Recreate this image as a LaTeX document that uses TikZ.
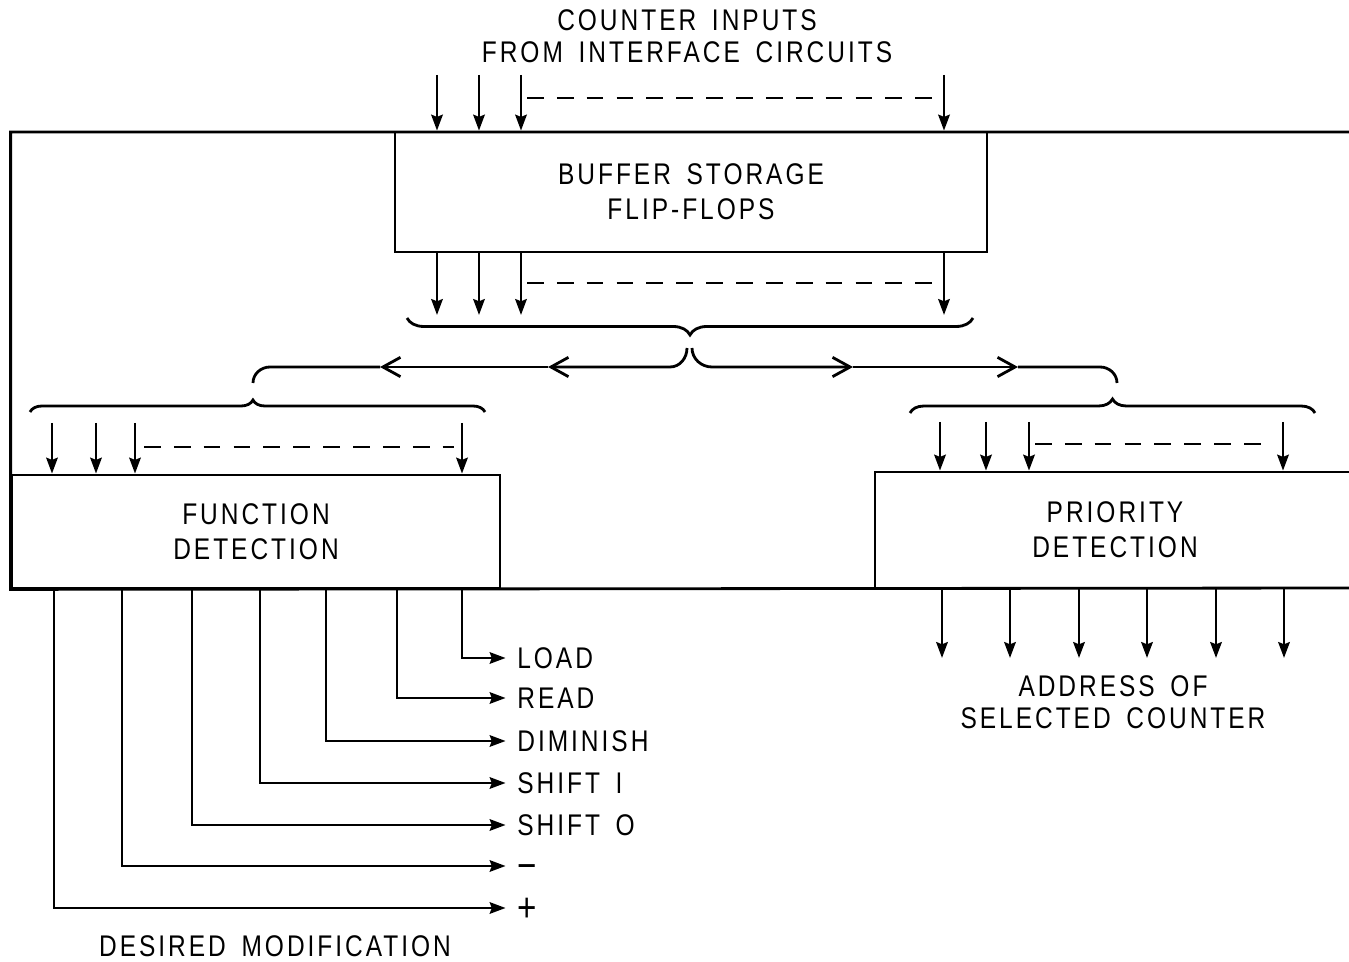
\documentclass[tikz,border=0pt]{standalone}
\usepackage{fontspec}
\setmainfont{Liberation Sans}[FakeStretch=0.82,LetterSpace=10,WordSpace=1.6]
\usetikzlibrary{arrows.meta,positioning,calc,decorations.pathreplacing}

\newcommand{\bigsign}[1]{\raisebox{-1.3pt}{\fontsize{23}{23}\selectfont #1}}

\begin{document}
\begin{tikzpicture}[
        x=0.02cm, y=-0.02cm,
        lbl/.style={font=\fontsize{17}{20}\selectfont, inner sep=0pt, align=center},
        outlbl/.style={lbl, anchor=west, text height=12.2pt, text depth=0pt},
        blk/.style={draw, line width=1.6pt, inner sep=0pt, lbl},
        wire/.style={line width=1.6pt},
        sig/.style={wire, -{Stealth[length=9pt,width=6.5pt,inset=1.2pt]}},
        bus/.style={wire, dash pattern=on 9.5pt off 7.5pt},
        fan/.style={wire, -{Straight Barb[length=10pt,width=11pt]}},
        brdn/.style={wire, decorate, decoration={brace, mirror, amplitude=#1}},
        brup/.style={wire, decorate, decoration={brace, amplitude=#1}}
    ]
    \useasboundingbox (0,0) rectangle (1349,962);

    % Blocks
    \node[blk, minimum width=11.84cm, minimum height=2.4cm] (buf) at (691,192) {BUFFER STORAGE\\FLIP-FLOPS};
    \node[blk, minimum width=9.76cm, minimum height=2.26cm] (fd) at (256,531.5) {FUNCTION\\DETECTION};
    \node[blk, minimum width=9.6cm, minimum height=2.32cm] (pd) at (1115,530) {PRIORITY\\DETECTION};

    % Frame round the blocks
    \coordinate (ftr) at (1352,132);
    \coordinate (fbr) at (1352,588);
    \draw[wire] (ftr) -| (fd.south west) -- (fbr);

    % Inputs to buffer, outputs of buffer
    \node[lbl] (title) at (687,36) {COUNTER INPUTS\\[-2pt]FROM INTERFACE CIRCUITS};
    \foreach \x [count=\i] in {437,479,521,944} {
        \coordinate (bi\i) at (\x,75);
        \coordinate (bo\i) at (\x,315);
        \draw[sig] (bi\i) -- (bi\i |- buf.north);
        \draw[sig] (bi\i |- buf.south) -- (bo\i);
    }
    \draw[bus] ($(bi3)+(6,23)$) -- ($(bi4)+(-12,23)$);
    \draw[bus] ($(bo3)+(6,-32)$) -- ($(bo4)+(-12,-32)$);

    % Braces
    \draw[brdn=0.34cm] (407,318) -- (973,318);
    \draw[brup=0.24cm, decoration={aspect=0.49}] (30,412) -- (485,412);
    \draw[brup=0.28cm] (910,413) -- (1315,413);

    % Split to both detectors
    \coordinate (cl1) at (687,348);
    \coordinate (cl2) at (670,367);
    \coordinate (la1) at (548,367);
    \coordinate (la2) at (380,367);
    \coordinate (cr1) at (692,348);
    \coordinate (cr2) at (712,367);
    \coordinate (ra1) at (853,367);
    \coordinate (ra2) at (1018,367);
    \draw[fan] (cl1) to[out=-90,in=0] (cl2) -- (la1);
    \draw[fan] (la1) -- (la2);
    \draw[wire] (la2) -- (270,367) to[out=180,in=90] (253,383);
    \draw[fan] (cr1) to[out=-90,in=180] (cr2) -- (ra1);
    \draw[fan] (ra1) -- (ra2);
    \draw[wire] (ra2) -- (1100,367) to[out=0,in=90] (1117,383);

    % Inputs to the detectors
    \foreach \x [count=\i] in {52,96,135,462} {
        \coordinate (fi\i) at (\x,423);
        \draw[sig] (fi\i) -- (fi\i |- fd.north);
    }
    \draw[bus] ($(fi3)+(9,24)$) -- ($(fi4)+(-8,24)$);
    \foreach \x [count=\i] in {940,986,1029,1283} {
        \coordinate (pi\i) at (\x,422);
        \draw[sig] (pi\i) -- (pi\i |- pd.north);
    }
    \draw[bus] ($(pi3)+(6,22)$) -- ($(pi4)+(-13,22)$);

    % Function outputs
    \foreach \x/\y/\t [count=\i] in {462/658/LOAD, 397/698/READ, 326/741/DIMINISH, 260/783/SHIFT I,
                                      192/825/SHIFT O, 122/866/\bigsign{−}, 54/908/\bigsign{+}} {
        \coordinate (fo\i) at (\x,588);
        \node[outlbl] (fl\i) at (517,\y) {\t};
        \draw[sig, shorten >=6.5pt] (fo\i) |- (fl\i.west);
    }
    \node[lbl] (desmod) at (275,946) {DESIRED MODIFICATION};

    % Priority outputs
    \foreach \x [count=\i] in {942,1010,1079,1147,1216,1284} {
        \coordinate (po\i) at (\x,588);
        \coordinate (pe\i) at (\x,658);
        \draw[sig] (po\i) -- (pe\i);
    }
    \node[lbl] (addr) at (1113,702) {ADDRESS OF\\[-2pt]SELECTED COUNTER};
\end{tikzpicture}
\end{document}
